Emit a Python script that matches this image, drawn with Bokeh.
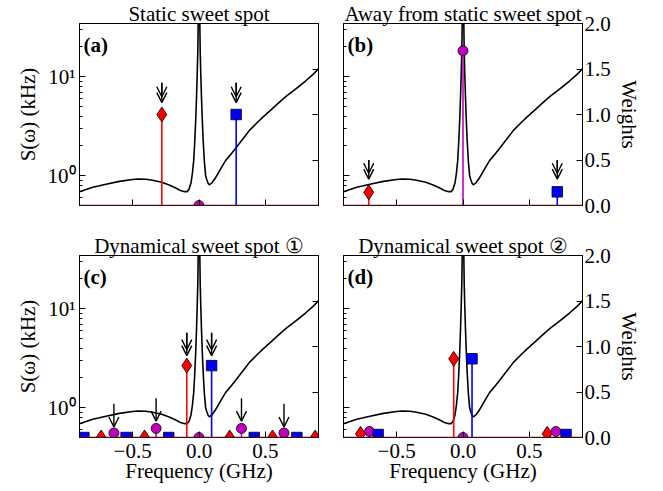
from bokeh.plotting import figure
from bokeh.models import (Range1d, LinearAxis, FixedTicker, Label, Arrow, OpenHead,
                          ColumnDataSource, CustomJSTickFormatter, Span, LinearScale)
from bokeh.layouts import column, row
from bokeh.embed import file_html
from bokeh.resources import INLINE

FONT = "Liberation Serif"
FS = "21px"

# ---------------- data ----------------
freq_curve = [-0.90, -0.80, -0.75, -0.70, -0.60, -0.50, -0.46, -0.40, -0.35, -0.28,
              -0.22, -0.175, -0.14, -0.107, -0.09, -0.075, -0.06, -0.05, -0.04, -0.032,
              -0.025, -0.019, -0.014, -0.009, -0.005, -0.002, 0.0, 0.002, 0.005, 0.009,
              0.014, 0.019, 0.025, 0.032, 0.04, 0.05, 0.06, 0.07, 0.078, 0.095,
              0.126, 0.16, 0.20, 0.24, 0.276, 0.33, 0.378, 0.43, 0.479, 0.54,
              0.604, 0.66, 0.727, 0.80, 0.85, 0.90]
s_curve = [0.69, 0.765, 0.79, 0.82, 0.877, 0.915, 0.925, 0.92, 0.90, 0.857,
           0.80, 0.75, 0.71, 0.69, 0.69, 0.73, 0.85, 1.05, 1.42, 2.2,
           3.6, 6.0, 10.0, 18.0, 45.0, 200.0, 1000.0, 200.0, 45.0, 18.0,
           10.0, 6.0, 3.6, 2.2, 1.42, 1.0, 0.9, 0.83, 0.81, 0.84,
           0.96, 1.15, 1.42, 1.65, 1.89, 2.35, 2.85, 3.35, 3.88, 4.6,
           5.5, 6.4, 7.5, 9.0, 10.3, 12.0]

panel_titles = ["Static sweet spot", "Away from static sweet spot",
                "Dynamical sweet spot \u2460", "Dynamical sweet spot \u2461"]
panel_tags = ["(a)", "(b)", "(c)", "(d)"]

freq_ticks = [-0.5, 0.0, 0.5]
freq_tick_labels = ["\u22120.5", "0.0", "0.5"]
s_ticks = [1.0, 10.0]
s_tick_labels = ["10\u2070", "10\u00b9"]
s_minor_ticks = [0.5, 0.6, 0.7, 0.8, 0.9, 2, 3, 4, 5, 6, 7, 8, 9, 20, 30]
w_ticks = [0.0, 0.5, 1.0, 1.5, 2.0]
w_tick_labels = ["0.0", "0.5", "1.0", "1.5", "2.0"]

# panel (a)
a_red_x, a_red_w = [-0.28], [1.0]
a_blue_x, a_blue_w = [0.28], [1.0]
a_mag_x, a_mag_w = [0.0], [0.0]
a_dbl_x, a_dbl_top, a_dbl_tip = [-0.28, 0.28], [1.35, 1.35], [1.13, 1.13]
a_sgl_x, a_sgl_top, a_sgl_tip = [], [], []

# panel (b)
b_red_x, b_red_w = [-0.71], [0.145]
b_blue_x, b_blue_w = [0.71], [0.15]
b_mag_x, b_mag_w = [0.0], [1.70]
b_dbl_x, b_dbl_top, b_dbl_tip = [-0.71, 0.71], [0.50, 0.50], [0.29, 0.29]
b_sgl_x, b_sgl_top, b_sgl_tip = [], [], []

# panel (c)
c_red_x = [-0.737, -0.41, -0.092, 0.231, 0.554, 0.875]
c_red_w = [0.0, 0.0, 0.79, 0.0, 0.0, 0.0]
c_blue_x = [-0.867, -0.549, -0.228, 0.095, 0.416, 0.737]
c_blue_w = [0.0, 0.0, 0.0, 0.79, 0.0, 0.0]
c_mag_x = [-0.641, -0.323, 0.0, 0.32, 0.64]
c_mag_w = [0.05, 0.10, 0.0, 0.10, 0.05]
c_dbl_x, c_dbl_top, c_dbl_tip = [-0.092, 0.095], [1.15, 1.15], [0.90, 0.90]
c_sgl_x = [-0.641, -0.323, 0.32, 0.64]
c_sgl_top = [0.37, 0.43, 0.43, 0.37]
c_sgl_tip = [0.115, 0.18, 0.18, 0.115]

# panel (d)
d_red_x, d_red_w = [-0.772, -0.07, 0.634], [0.04, 0.865, 0.04]
d_blue_x, d_blue_w = [-0.639, 0.068, 0.776], [0.033, 0.865, 0.033]
d_mag_x, d_mag_w = [-0.704, 0.0, 0.70], [0.066, 0.0, 0.066]
d_dbl_x, d_dbl_top, d_dbl_tip = [], [], []
d_sgl_x, d_sgl_top, d_sgl_tip = [], [], []

RED, BLUE, MAG = "#FF0000", "#0000FF", "#BF00BF"
BASE = "#7A1414"
FRAME_W, FRAME_H = 239, 182


def fmt(vals, labs):
    return CustomJSTickFormatter(args=dict(vals=vals, labs=labs), code="""
        for (let i = 0; i < vals.length; i++) {
            if (Math.abs(vals[i] - tick) < 1e-9) { return labs[i]; }
        }
        return "";
    """)


def style_axis(ax, show):
    ax.major_tick_in = 6
    ax.major_tick_out = 0
    ax.minor_tick_in = 3
    ax.minor_tick_out = 0
    ax.axis_line_color = "black"
    ax.major_tick_line_color = "black"
    ax.minor_tick_line_color = "black"
    ax.major_label_text_font = FONT
    if show:
        ax.major_label_text_font_size = FS
        ax.major_label_text_color = "black"
    else:
        ax.major_label_text_font_size = "2px"
        ax.major_label_text_color = None
    ax.axis_label_text_font = FONT
    ax.axis_label_text_font_size = FS
    ax.axis_label_text_font_style = "normal"
    ax.axis_label_text_color = "black"


def build(i, red, blue, mag, dbl, sgl, left_lab, right_lab, bottom_lab, borders):
    l, r, t, b = borders
    p = figure(frame_width=FRAME_W, frame_height=FRAME_H,
               x_range=Range1d(-0.9, 0.9), y_range=Range1d(0.5, 34.5),
               y_axis_type="log", output_backend="svg", toolbar_location=None,
               min_border_left=l, min_border_right=r, min_border_top=t, min_border_bottom=b,
               background_fill_color="white", border_fill_color="white",
               outline_line_color="black", title=panel_titles[i])
    p.title.align = "center"
    p.title.text_font = FONT
    p.title.text_font_size = FS
    p.title.text_font_style = "normal"
    p.title.text_color = "black"
    p.title.standoff = -4
    p.title.vertical_align = "bottom"

    p.extra_y_ranges = {"w": Range1d(0.0, 2.0)}
    p.extra_y_scales = {"w": LinearScale()}
    p.xgrid.visible = False
    p.ygrid.visible = False

    lax = p.left[0]
    lax.ticker = FixedTicker(ticks=s_ticks, minor_ticks=s_minor_ticks)
    lax.formatter = fmt(s_ticks, s_tick_labels)
    style_axis(lax, left_lab)
    lax.major_label_standoff = 4
    lax.axis_label_standoff = 5
    if left_lab:
        lax.axis_label = "S(\u03c9) (kHz)"

    bax = p.below[0]
    bax.ticker = FixedTicker(ticks=freq_ticks, minor_ticks=[])
    bax.formatter = fmt(freq_ticks, freq_tick_labels)
    style_axis(bax, bottom_lab)
    bax.major_label_standoff = 6
    bax.axis_label_standoff = -2
    if bottom_lab:
        bax.axis_label = "Frequency (GHz)"

    rax = LinearAxis(y_range_name="w", ticker=FixedTicker(ticks=w_ticks, minor_ticks=[]),
                     formatter=fmt(w_ticks, w_tick_labels))
    style_axis(rax, right_lab)
    rax.major_label_standoff = 2
    rax.axis_label_standoff = 3
    if right_lab:
        rax.axis_label = "Weights"
    p.add_layout(rax, "right")

    # spectrum
    p.line(freq_curve, s_curve, line_color="black", line_width=1.6)

    # stems
    for (xs, ws), col in ((red, RED), (blue, BLUE), (mag, MAG)):
        p.segment(x0=xs, y0=[0.0] * len(xs), x1=xs, y1=ws, line_color=col,
                  line_width=1.6, y_range_name="w")
    p.add_layout(Span(location=0.0, dimension="width", y_range_name="w",
                      line_color=BASE, line_width=1.6))
    p.scatter(red[0], red[1], marker="diamond", size=15, fill_color=RED,
              line_color="black", line_width=0.8, y_range_name="w")
    p.scatter(mag[0], mag[1], marker="circle", size=10, fill_color=MAG,
              line_color="black", line_width=0.8, y_range_name="w")
    p.scatter(blue[0], blue[1], marker="square", size=10.5, fill_color=BLUE,
              line_color="black", line_width=0.8, y_range_name="w")

    # arrows
    dx, dtop, dtip = dbl
    if dx:
        s1 = ColumnDataSource(dict(x=dx, y0=dtop, y1=dtip))
        s2 = ColumnDataSource(dict(x=dx, y0=dtop, y1=[v + 0.065 for v in dtip]))
        for s in (s1, s2):
            p.add_layout(Arrow(source=s, x_start="x", y_start="y0", x_end="x", y_end="y1",
                               y_range_name="w", line_color="black", line_width=1.4,
                               end=OpenHead(size=10, line_width=1.4, line_color="black")))
    sx, stop, stip = sgl
    if sx:
        s3 = ColumnDataSource(dict(x=sx, y0=stop, y1=stip))
        p.add_layout(Arrow(source=s3, x_start="x", y_start="y0", x_end="x", y_end="y1",
                           y_range_name="w", line_color="black", line_width=1.4,
                           end=OpenHead(size=10, line_width=1.4, line_color="black")))

    # panel tag
    p.add_layout(Label(x=-0.9, y=2.0, y_range_name="w", text=panel_tags[i],
                       text_align="left", text_baseline="top", x_offset=4, y_offset=-9,
                       text_font=FONT, text_font_size=FS, text_font_style="bold",
                       text_color="black"))
    return p


pa = build(0, (a_red_x, a_red_w), (a_blue_x, a_blue_w), (a_mag_x, a_mag_w),
           (a_dbl_x, a_dbl_top, a_dbl_tip), (a_sgl_x, a_sgl_top, a_sgl_tip),
           True, False, False, (79, 12, 23, 25))
pb = build(1, (b_red_x, b_red_w), (b_blue_x, b_blue_w), (b_mag_x, b_mag_w),
           (b_dbl_x, b_dbl_top, b_dbl_tip), (b_sgl_x, b_sgl_top, b_sgl_tip),
           False, True, False, (13, 70, 23, 25))
pc = build(2, (c_red_x, c_red_w), (c_blue_x, c_blue_w), (c_mag_x, c_mag_w),
           (c_dbl_x, c_dbl_top, c_dbl_tip), (c_sgl_x, c_sgl_top, c_sgl_tip),
           True, False, True, (79, 12, 25, 50))
pd_ = build(3, (d_red_x, d_red_w), (d_blue_x, d_blue_w), (d_mag_x, d_mag_w),
            (d_dbl_x, d_dbl_top, d_dbl_tip), (d_sgl_x, d_sgl_top, d_sgl_tip),
            False, True, True, (13, 70, 25, 50))

layout = column(row(pa, pb), row(pc, pd_))
open("out.html", "w").write(file_html(layout, INLINE))
